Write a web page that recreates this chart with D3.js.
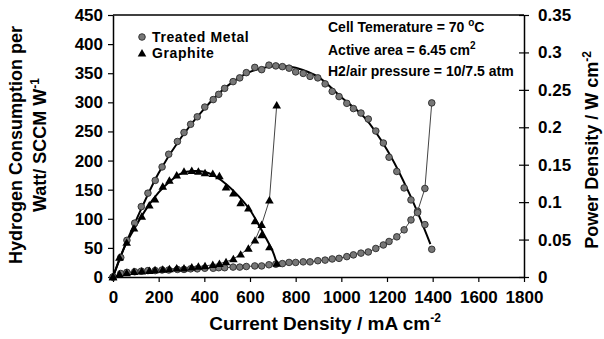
<!DOCTYPE html>
<html>
<head>
<meta charset="utf-8">
<script src="https://cdn.jsdelivr.net/npm/d3@7"></script>
<style>
    body { margin: 0; background: #fff; }
    svg { display: block; font-family: "Liberation Sans", Arial, sans-serif; }
    .tick text { font-weight: bold; font-size: 17px; fill: #000; }
</style>
</head>
<body>
<div id="chart"></div>
<script>
// treated metal plate: current density (mA/cm2), power density (W/cm2), H2 per watt
const metalCurrent = [0, 34, 61, 95, 124, 153, 185, 215, 244, 282, 311, 340, 369, 402, 439, 463, 489, 526, 555, 584, 621, 651, 683, 713, 742, 771, 800, 833, 863, 897, 929, 960, 990, 1024, 1053, 1086, 1118, 1151, 1184, 1209, 1243, 1275, 1305, 1334, 1366, 1396]
const metalPower = [0, 0.026, 0.049, 0.072, 0.094, 0.112, 0.129, 0.147, 0.164, 0.181, 0.193, 0.204, 0.214, 0.227, 0.237, 0.244, 0.252, 0.261, 0.266, 0.273, 0.280, 0.277, 0.283, 0.282, 0.281, 0.279, 0.274, 0.272, 0.268, 0.266, 0.258, 0.248, 0.241, 0.232, 0.225, 0.219, 0.211, 0.195, 0.179, 0.160, 0.141, 0.119, 0.103, 0.086, 0.070, 0.037]
const metalH2 = [0, 6, 8, 9, 10, 11, 11, 12, 12, 13, 13, 14, 14, 15, 15, 16, 16, 17, 17, 18, 19, 19, 21, 22, 23, 25, 25, 26, 26, 28, 29, 31, 32, 35, 38, 41, 43, 49, 55, 61, 69, 81, 98, 113, 152, 299]

// graphite plate
const graphCurrent = [0, 28, 60, 92, 126, 159, 184, 218, 247, 279, 311, 345, 374, 403, 437, 466, 495, 527, 559, 593, 622, 651, 685, 717]
const graphPower = [0, 0.026, 0.046, 0.065, 0.081, 0.096, 0.104, 0.121, 0.129, 0.136, 0.141, 0.142, 0.141, 0.139, 0.138, 0.135, 0.120, 0.112, 0.099, 0.092, 0.075, 0.056, 0.040, 0.018]
const graphH2 = [0, 5, 7, 9, 10, 11, 12, 13, 14, 15, 15, 17, 18, 19, 21, 23, 26, 31, 39, 49, 63, 90, 132, 295]

// fitted power curves
const metalFitCurrent = [0, 50, 100, 200, 300, 400, 500, 600, 700, 750, 800, 900, 1000, 1100, 1200, 1300, 1390]
const metalFitPower = [0, 0.040, 0.075, 0.139, 0.187, 0.225, 0.255, 0.274, 0.2815, 0.282, 0.2795, 0.267, 0.240, 0.2135, 0.170, 0.110, 0.044]
const graphFitCurrent = [0, 50, 100, 150, 200, 250, 300, 350, 400, 450, 500, 550, 600, 650, 700, 717]
const graphFitPower = [0, 0.040, 0.068, 0.093, 0.113, 0.128, 0.1385, 0.1415, 0.1405, 0.134, 0.123, 0.108, 0.0895, 0.063, 0.034, 0.018]

const xTicks = [0, 200, 400, 600, 800, 1000, 1200, 1400, 1600, 1800]
const yLeftTicks = [0, 50, 100, 150, 200, 250, 300, 350, 400, 450]
const yRightTicks = [0, 0.05, 0.1, 0.15, 0.2, 0.25, 0.3, 0.35]

const zip = (xs, ys) => xs.map((x, i) => ({ x: x, y: ys[i] }))

const dimensions = {
    width: 604,
    height: 339,
    margin: { top: 15, right: 80, bottom: 62, left: 113 },
}
dimensions.boundedWidth = dimensions.width - dimensions.margin.left - dimensions.margin.right
dimensions.boundedHeight = dimensions.height - dimensions.margin.top - dimensions.margin.bottom

const wrapper = d3.select("#chart")
    .append("svg")
    .attr("width", dimensions.width)
    .attr("height", dimensions.height)

const bounds = wrapper.append("g")
    .attr("transform", `translate(${dimensions.margin.left},${dimensions.margin.top})`)

const xScale = d3.scaleLinear()
    .domain([0, 1800])
    .range([0, dimensions.boundedWidth])
const yLeft = d3.scaleLinear()
    .domain([0, 450])
    .range([dimensions.boundedHeight, 0])
const yRight = d3.scaleLinear()
    .domain([0, 0.35])
    .range([dimensions.boundedHeight, 0])

// frame top line
bounds.append("line")
    .attr("x1", 0).attr("x2", dimensions.boundedWidth)
    .attr("y1", 0).attr("y2", 0)
    .attr("stroke", "#000").attr("stroke-width", 1.5)

// axes
const xAxis = bounds.append("g")
    .attr("transform", `translate(0,${dimensions.boundedHeight})`)
    .call(d3.axisBottom(xScale).tickValues(xTicks).tickFormat(d3.format("d"))
        .tickSizeInner(5).tickSizeOuter(0).tickPadding(9))
const yAxisLeft = bounds.append("g")
    .call(d3.axisLeft(yLeft).tickValues(yLeftTicks).tickSizeInner(5).tickSizeOuter(0).tickPadding(5))
const yAxisRight = bounds.append("g")
    .attr("transform", `translate(${dimensions.boundedWidth},0)`)
    .call(d3.axisRight(yRight).tickValues(yRightTicks).tickFormat(d3.format("~g"))
        .tickSizeInner(5).tickSizeOuter(0).tickPadding(9))
yAxisRight.selectAll(".tick line").attr("x1", -5)

bounds.selectAll(".domain").attr("stroke-width", 1.5)
bounds.selectAll(".tick line").attr("stroke-width", 1.2)

// hydrogen consumption lines (thin, straight)
const h2Line = d3.line()
    .x(d => xScale(d.x))
    .y(d => yLeft(d.y))
bounds.append("path")
    .attr("d", h2Line(zip(graphCurrent, graphH2)))
    .attr("fill", "none").attr("stroke", "#444").attr("stroke-width", 1)
bounds.append("path")
    .attr("d", h2Line(zip(metalCurrent, metalH2)))
    .attr("fill", "none").attr("stroke", "#444").attr("stroke-width", 1)

// fitted power curves
const fitLine = d3.line()
    .x(d => xScale(d.x))
    .y(d => yRight(d.y))
    .curve(d3.curveCatmullRom)
bounds.append("path")
    .attr("d", fitLine(zip(metalFitCurrent, metalFitPower)))
    .attr("fill", "none").attr("stroke", "#000").attr("stroke-width", 2)
bounds.append("path")
    .attr("d", fitLine(zip(graphFitCurrent, graphFitPower)))
    .attr("fill", "none").attr("stroke", "#000").attr("stroke-width", 2)

// markers
const triangle = d3.symbol().type(d3.symbolTriangle).size(32)
function drawCircles(data, yScale) {
    bounds.append("g").selectAll("circle")
        .data(data)
        .join("circle")
        .attr("cx", d => xScale(d.x))
        .attr("cy", d => yScale(d.y))
        .attr("r", 3.3)
        .attr("fill", "#777")
        .attr("stroke", "#2a2a2a")
        .attr("stroke-width", 0.9)
}
function drawTriangles(data, yScale) {
    bounds.append("g").selectAll("path")
        .data(data)
        .join("path")
        .attr("d", triangle)
        .attr("transform", d => `translate(${xScale(d.x)},${yScale(d.y) + 0.8})`)
        .attr("fill", "#000")
}
drawCircles(zip(metalCurrent, metalH2), yLeft)
drawCircles(zip(metalCurrent, metalPower), yRight)
drawTriangles(zip(graphCurrent, graphH2), yLeft)
drawTriangles(zip(graphCurrent, graphPower), yRight)

// legend
const legend = wrapper.append("g")
legend.append("circle")
    .attr("cx", 142).attr("cy", 37).attr("r", 3.3)
    .attr("fill", "#777").attr("stroke", "#2a2a2a").attr("stroke-width", 0.9)
legend.append("path")
    .attr("d", triangle)
    .attr("transform", "translate(142,54)")
legend.append("text")
    .attr("x", 152).attr("y", 42)
    .style("font-size", "14px").style("font-weight", "bold").style("letter-spacing", "0.6px")
    .text("Treated Metal")
legend.append("text")
    .attr("x", 152).attr("y", 58)
    .style("font-size", "14px").style("font-weight", "bold").style("letter-spacing", "0.6px")
    .text("Graphite")

// test conditions
const notes = wrapper.append("g")
    .style("font-size", "14px").style("font-weight", "bold")
const note1 = notes.append("text").attr("x", 328).attr("y", 32)
note1.append("tspan").text("Cell Temerature = 70 ")
note1.append("tspan").attr("dy", -6).style("font-size", "10px").text("o")
note1.append("tspan").attr("dy", 6).text("C")
const note2 = notes.append("text").attr("x", 328).attr("y", 55)
note2.append("tspan").text("Active area = 6.45 cm")
note2.append("tspan").attr("dy", -6).style("font-size", "10px").text("2")
notes.append("text").attr("x", 328).attr("y", 76)
    .text("H2/air pressure = 10/7.5 atm")

// axis titles
const xTitle = wrapper.append("text")
    .attr("x", 325).attr("y", 330)
    .attr("text-anchor", "middle")
    .style("font-size", "19px").style("font-weight", "bold")
xTitle.append("tspan").text("Current Density / mA cm")
xTitle.append("tspan").attr("dy", -8).style("font-size", "12px").text("-2")

const yTitle = wrapper.append("text")
    .attr("transform", "translate(0,145) rotate(-90)")
    .attr("text-anchor", "middle")
    .style("font-size", "18px").style("font-weight", "bold")
yTitle.append("tspan").attr("x", 0).attr("y", 22).text("Hydrogen Consumption per")
yTitle.append("tspan").attr("x", 0).attr("y", 46).text("Watt/ SCCM W")
yTitle.append("tspan").attr("dy", -7).style("font-size", "12px").text("-1")

const yRightTitle = wrapper.append("text")
    .attr("transform", "translate(598,150) rotate(-90)")
    .attr("text-anchor", "middle")
    .style("font-size", "18px").style("font-weight", "bold")
yRightTitle.append("tspan").text("Power Density / W cm")
yRightTitle.append("tspan").attr("dy", -7).style("font-size", "12px").text("-2")
</script>
</body>
</html>
